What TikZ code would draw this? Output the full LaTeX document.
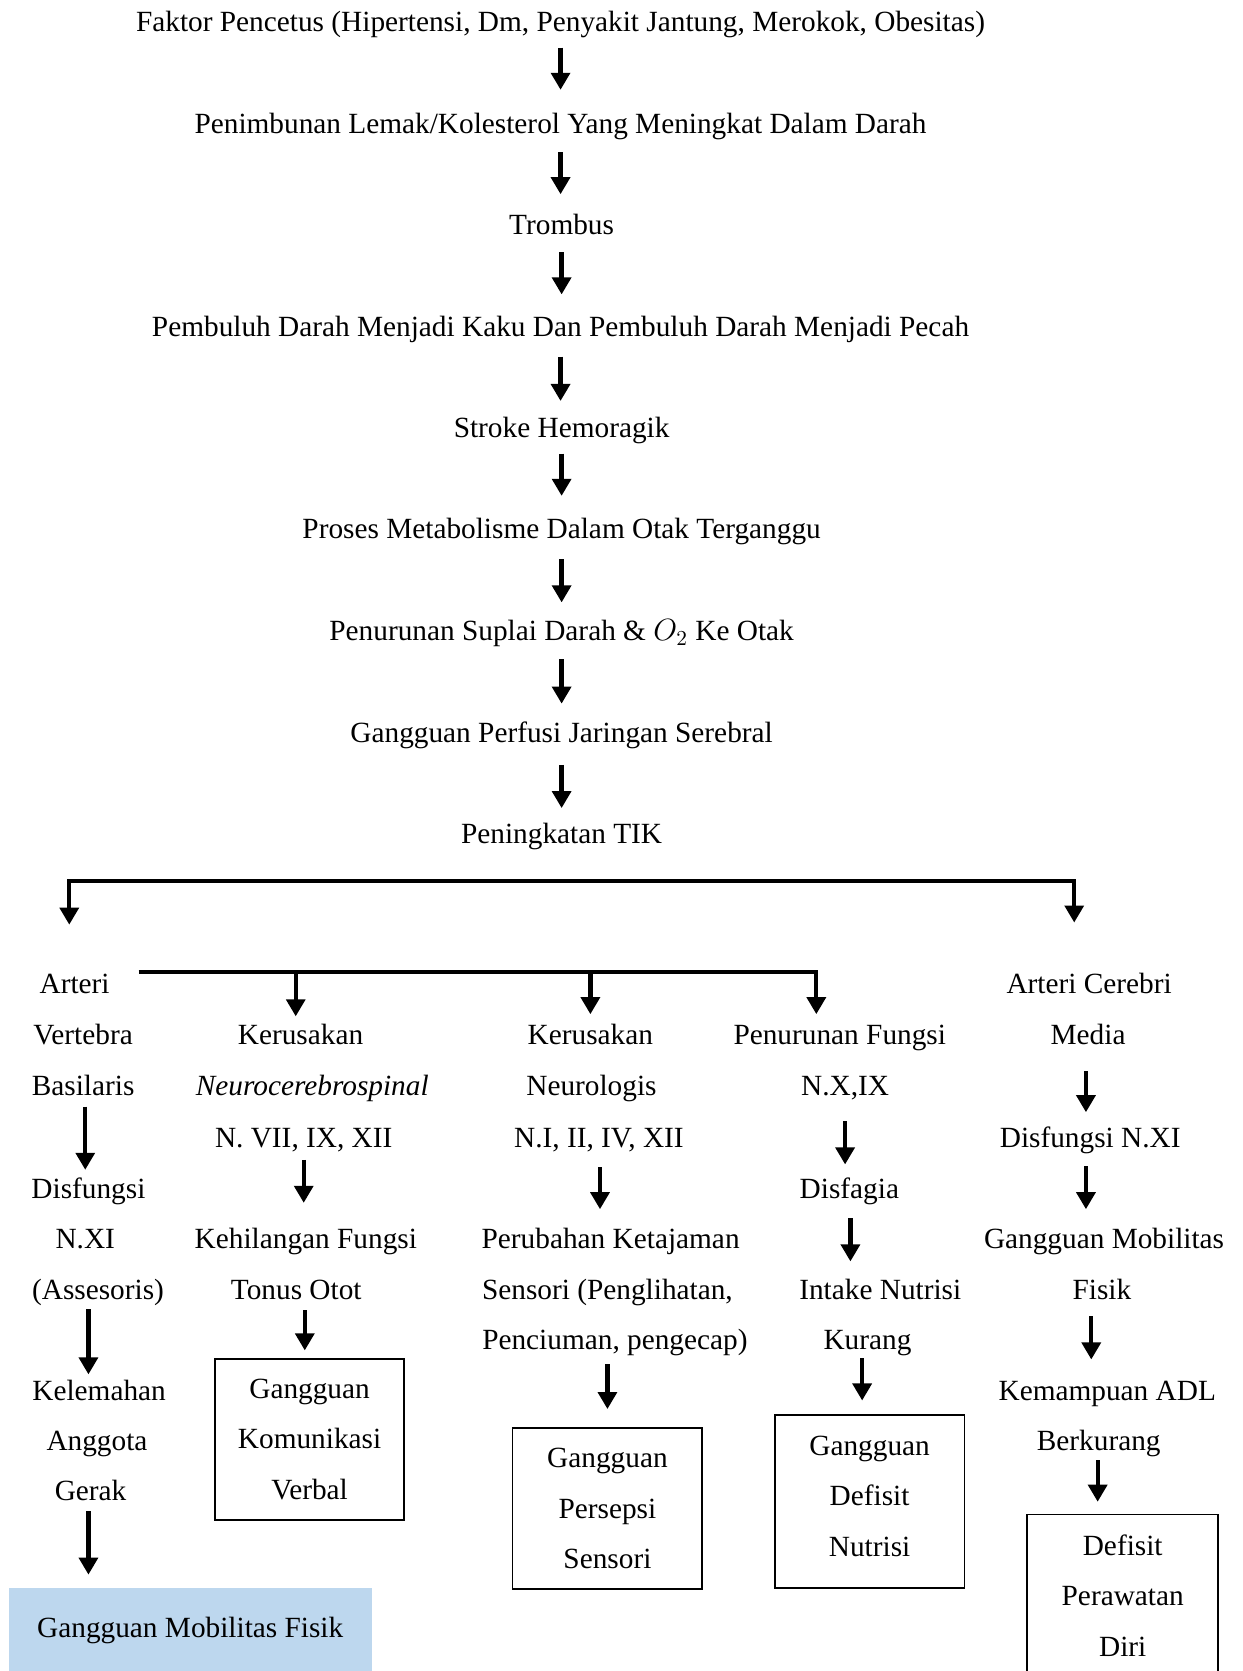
\documentclass[tikz,border=0pt]{standalone}
\usepackage{fontspec}
\setmainfont{Liberation Serif}
\usetikzlibrary{arrows.meta}
\definecolor{lblue}{HTML}{BDD7EE}
\newcommand\conn[5]{\draw[arr,shorten <=#4pt,shorten >=#5pt] ([xshift=#3pt]#1.south) -- ([xshift=#3pt]#1.south |- #2.north);}
\begin{document}
\begin{tikzpicture}[x=0.5pt,y=-0.5pt,
  txt/.style={inner sep=0pt, font=\fontsize{13.75}{23.75}\selectfont, text height=10.8pt, text depth=1.5pt, anchor=center},
  boxnode/.style={draw, line width=0.8pt, inner sep=0pt, align=center, font=\fontsize{13.75}{23.75}\selectfont},
  arr/.style={line width=2pt, -{Triangle[width=8.75pt,length=8pt]}},
]
\useasboundingbox (0,0) rectangle (1166,1568);
\clip (0,0) rectangle (1166,1568);

% main chain
\node[txt] (t1) at (526,20) {Faktor Pencetus (Hipertensi, Dm, Penyakit Jantung, Merokok, Obesitas)};
\node[txt] (t2) at (526,116) {Penimbunan Lemak/Kolesterol Yang Meningkat Dalam Darah};
\node[txt] (t3) at (527,211) {Trombus};
\node[txt] (t4) at (526,306) {Pembuluh Darah Menjadi Kaku Dan Pembuluh Darah Menjadi Pecah};
\node[txt] (t5) at (527,401) {Stroke Hemoragik};
\node[txt] (t6) at (527,496) {Proses Metabolisme Dalam Otak Terganggu};
\node[txt] (t7) at (527,592) {Penurunan Suplai Darah \& $O_2$ Ke Otak};
\node[txt] (t8) at (527,687) {Gangguan Perfusi Jaringan Serebral};
\node[txt] (t9) at (527,782) {Peningkatan TIK};
\conn{t1}{t2}{0}{6}{9.5}
\conn{t2}{t3}{0}{7}{8}
\conn{t3}{t4}{0}{6.5}{8.5}
\conn{t4}{t5}{0}{8}{6}
\conn{t5}{t6}{0}{6}{9}
\conn{t6}{t7}{0}{8}{7}
\conn{t7}{t8}{0}{7}{7}
\conn{t8}{t9}{0}{9}{5.5}

% column 1
\node[txt] (a1) at (70,923) {Arteri};
\node[txt] (a2) at (78,971) {Vertebra};
\node[txt] (a3) at (78,1019) {Basilaris};
\node[txt] (a4) at (83,1115) {Disfungsi};
\node[txt] (a5) at (80,1162) {N.XI};
\node[txt] (a6) at (92,1210) {(Assesoris)};
\node[txt] (a7) at (93,1305) {Kelemahan};
\node[txt] (a8) at (91,1352) {Anggota};
\node[txt] (a9) at (85,1399) {Gerak};
\node[fill=lblue, inner sep=0pt, minimum width=170.5pt, minimum height=40pt, font=\fontsize{13.75}{23.75}\selectfont] (g1) at (178.5,1530) {Gangguan Mobilitas Fisik};
\conn{a3}{a4}{1}{3.3}{2.3}
\conn{a6}{a7}{-4.5}{2.8}{1.3}
\conn{a9}{g1}{-1}{3.3}{6}

% column 2
\node[txt] (b1) at (282,971) {Kerusakan};
\node[txt] (b2) at (293,1019) {\textit{Neurocerebrospinal}};
\node[txt] (b3) at (285,1067) {N. VII, IX, XII};
\node[txt] (b4) at (287,1162) {Kehilangan Fungsi};
\node[txt] (b5) at (278,1210) {Tonus Otot};
\node[boxnode, minimum width=88.5pt, minimum height=75.5pt] (bx2) at (290.5,1350.5) {Gangguan\\Komunikasi\\Verbal};
\conn{b3}{b4}{0}{4.3}{10.3}
\conn{b5}{bx2}{4}{3.3}{3.5}

% column 3
\node[txt] (c1) at (554,971) {Kerusakan};
\node[txt] (c2) at (555,1019) {Neurologis};
\node[txt] (c3) at (562,1067) {N.I, II, IV, XII};
\node[txt] (c4) at (573,1162) {Perubahan Ketajaman};
\node[txt] (c5) at (570,1210) {Sensori (Penglihatan,};
\node[txt] (c6) at (577,1257) {Penciuman, pengecap)};
\node[boxnode, minimum width=89pt, minimum height=75.5pt] (bx3) at (570,1415.5) {Gangguan\\Persepsi\\Sensori};
\conn{c3}{c4}{0.5}{7.8}{7.3}
\conn{c6}{bx3}{-3.5}{5.3}{8.5}

% column 4
\node[txt] (d1) at (788,971) {Penurunan Fungsi};
\node[txt] (d2) at (793,1019) {N.X,IX};
\node[txt] (d3) at (797,1115) {Disfagia};
\node[txt] (d4) at (826,1210) {Intake Nutrisi};
\node[txt] (d5) at (814,1257) {Kurang};
\node[boxnode, minimum width=89pt, minimum height=81pt] (bx4) at (816,1409) {Gangguan\\Defisit\\Nutrisi\rule[-5pt]{0pt}{0pt}};
\conn{d2}{d3}{0}{10.3}{4.8}
\conn{d3}{d4}{0.5}{7.8}{6.8}
\conn{d5}{bx4}{-2.5}{2.3}{6.5}

% column 5
\node[txt] (e1) at (1022,923) {Arteri Cerebri};
\node[txt] (e2) at (1021,971) {Media};
\node[txt] (e3) at (1023,1067) {Disfungsi N.XI};
\node[txt] (e4) at (1036,1162) {Gangguan Mobilitas};
\node[txt] (e5) at (1034,1210) {Fisik};
\node[txt] (e6) at (1039,1305) {Kemampuan ADL};
\node[txt] (e7) at (1031,1352) {Berkurang};
\node[boxnode, minimum width=89.5pt, minimum height=76pt] (bx5) at (1053.5,1497) {Defisit\\Perawatan\\Diri};
\conn{e2}{e3}{-1}{10.8}{5.3}
\conn{e3}{e4}{-2}{7.3}{7.3}
\conn{e5}{e6}{-5}{6.3}{8.3}
\conn{e7}{bx5}{-0.5}{2.8}{5.5}

% branches
\coordinate (br1) at (537,827);
\draw[arr, shorten >=21.3pt] (br1) -| ([xshift=-2.5pt]a1.north);
\draw[arr, shorten >=22.3pt] (br1) -| ([xshift=-7pt]e1.north);
\coordinate (br2) at (130,912);
\draw[arr, shorten >=3.3pt] (br2) -| ([xshift=-11pt]d1.north);
\draw[arr, shorten >=2.3pt] ([xshift=-2.25pt]b1.north |- br2) -- ([xshift=-2.25pt]b1.north);
\draw[arr, shorten >=3.3pt] (c1.north |- br2) -- (c1.north);
\end{tikzpicture}
\end{document}
